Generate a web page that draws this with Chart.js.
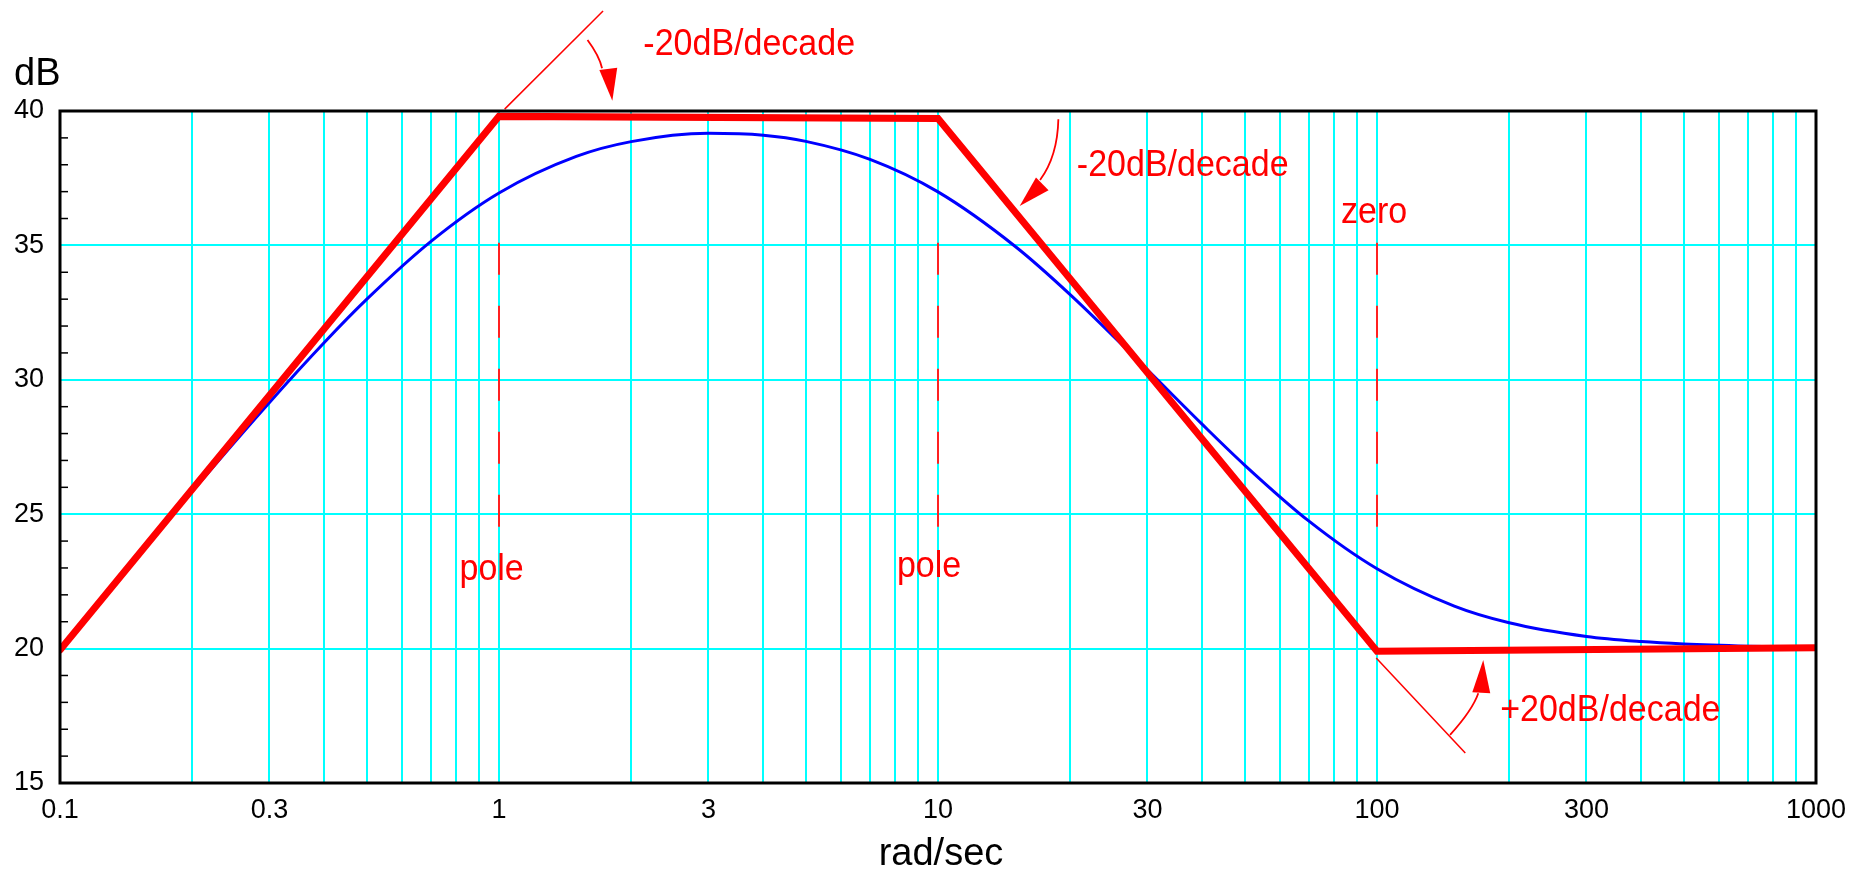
<!DOCTYPE html>
<html>
<head>
<meta charset="utf-8">
<script src="https://cdn.jsdelivr.net/npm/chart.js@4.4.0/dist/chart.umd.min.js"></script>
<style>
  html, body { margin: 0; padding: 0; background: #fff; }
</style>
</head>
<body>
<canvas id="bode" width="1871" height="872"></canvas>
<script>
// axis ticks (rad/sec and dB)
const x_ticks = [0.1, 0.2, 0.3, 0.4, 0.5, 0.6, 0.7, 0.8, 0.9,
                 1, 2, 3, 4, 5, 6, 7, 8, 9,
                 10, 20, 30, 40, 50, 60, 70, 80, 90,
                 100, 200, 300, 400, 500, 600, 700, 800, 900, 1000];
const x_labels = [0.1, 0.3, 1, 3, 10, 30, 100, 300, 1000];
const y_labels = [15, 20, 25, 30, 35, 40];

const freq      = [0.1, 0.15, 0.2, 0.3, 0.4, 0.5, 0.7, 1, 1.5, 2, 3, 4, 5, 7, 10, 15, 20, 30, 40, 50, 70, 100, 150, 200, 300, 400, 500, 700, 1000];
const magnitude = [19.96, 23.42, 25.85, 29.16, 31.39, 33.0, 35.15, 36.95, 38.31, 38.86, 39.17, 39.1, 38.87, 38.2, 36.99, 34.96, 33.17, 30.37, 28.34, 26.82, 24.74, 22.97, 21.58, 20.96, 20.45, 20.26, 20.17, 20.09, 20.04];

// red straight line approximation
const asym_freq = [0.1, 1, 10, 100, 1000];
const asym_db   = [19.95, 39.8, 39.72, 19.9, 20.03];

// dashed pole / zero markers
const break_freq = [1, 10, 100];
const break_top = 35.1;
const break_bottom = 24.5;

// thin slope guide lines
const guide_a = [[1.03, 40.07], [1.726, 43.72]];
const guide_b = [[99.6, 19.65], [158.9, 16.12]];

// text notes (data coords, baseline centre)
const notes = [
  { text: '-20dB/decade', x: 3.715, y: 42.08 },
  { text: '-20dB/decade', x: 36.09, y: 37.58 },
  { text: 'zero',         x: 98.5,  y: 35.82 },
  { text: 'pole',         x: 0.962, y: 22.55 },
  { text: 'pole',         x: 9.54,  y: 22.68 },
  { text: '+20dB/decade', x: 340,   y: 17.31 }
];
// curved arrows: arc start, arc control, arc end, head base, head tip
const arrows = [
  { from: [1.591, 42.64], ctrl: [1.692, 42.05], to: [1.717, 41.59], base: [1.774, 41.57], tip: [1.812, 40.38] },
  { from: [18.80, 39.69], ctrl: [18.72, 38.31], to: [17.08, 37.43], base: [17.28, 37.29], tip: [15.35, 36.47] },
  { from: [146.7, 16.79], ctrl: [165.1, 17.72], to: [170.1, 18.34], base: [172.8, 18.36], tip: [174.6, 19.58] }
];

const FONT = "'Liberation Sans', Arial, Helvetica, sans-serif";
const RED = '#ff0000';
const CYAN = '#00ffff';

function pts(xs, ys) {
  return xs.map((x, i) => ({ x: x, y: ys[i] }));
}

let datasets = [];
datasets.push({
  label: 'asymptote',
  data: pts(asym_freq, asym_db),
  borderColor: RED,
  borderWidth: 7,
  borderCapStyle: 'round',
  borderJoinStyle: 'miter',
  pointRadius: 0,
  tension: 0
});
datasets.push({
  label: 'magnitude',
  data: pts(freq, magnitude),
  borderColor: '#0000ff',
  borderWidth: 3,
  pointRadius: 0,
  cubicInterpolationMode: 'monotone'
});
break_freq.forEach(f => {
  datasets.push({
    label: 'break ' + f,
    data: [{ x: f, y: break_top }, { x: f, y: break_bottom }],
    borderColor: '#ff2020',
    borderWidth: 2,
    borderDash: [32, 31],
    pointRadius: 0
  });
});
[guide_a, guide_b].forEach((g, i) => {
  datasets.push({
    label: 'guide ' + i,
    data: g.map(p => ({ x: p[0], y: p[1] })),
    borderColor: RED,
    borderWidth: 1.5,
    pointRadius: 0,
    clip: false
  });
});

function drawArrow(ctx, p0, pc, p1, base, tip, headW) {
  ctx.beginPath();
  ctx.moveTo(p0.x, p0.y);
  ctx.quadraticCurveTo(pc.x, pc.y, p1.x, p1.y);
  ctx.stroke();
  const dx = tip.x - base.x, dy = tip.y - base.y;
  const d = Math.hypot(dx, dy);
  const ux = dx / d, uy = dy / d;
  ctx.beginPath();
  ctx.moveTo(tip.x, tip.y);
  ctx.lineTo(base.x - uy * headW / 2, base.y + ux * headW / 2);
  ctx.lineTo(base.x + uy * headW / 2, base.y - ux * headW / 2);
  ctx.closePath();
  ctx.fill();
}

const extras = {
  id: 'bodeExtras',
  afterDatasetsDraw(chart) {
    const ctx = chart.ctx;
    const xs = chart.scales.x, ys = chart.scales.y;
    const a = chart.chartArea;
    const P = (v) => ({ x: xs.getPixelForValue(v[0]), y: ys.getPixelForValue(v[1]) });
    ctx.save();

    // frame
    ctx.strokeStyle = '#000';
    ctx.lineWidth = 3;
    ctx.strokeRect(a.left, a.top, a.right - a.left, a.bottom - a.top);

    // minor dB ticks inside the left edge
    ctx.lineWidth = 1.5;
    for (let v = ys.min + 1; v < ys.max; v++) {
      if (v % 5 === 0) continue;
      const y = ys.getPixelForValue(v);
      ctx.beginPath();
      ctx.moveTo(a.left, y);
      ctx.lineTo(a.left + 8, y);
      ctx.stroke();
    }

    // notes (the original lettering is a little taller than Liberation Sans)
    ctx.fillStyle = RED;
    ctx.strokeStyle = RED;
    ctx.font = '34px ' + FONT;
    ctx.textAlign = 'center';
    ctx.textBaseline = 'alphabetic';
    notes.forEach(n => {
      const p = P([n.x, n.y]);
      ctx.save();
      ctx.translate(p.x, p.y);
      ctx.scale(1, 1.1);
      ctx.fillText(n.text, 0, 0);
      ctx.restore();
    });

    // arrows
    ctx.lineWidth = 1.8;
    arrows.forEach(ar => {
      drawArrow(ctx, P(ar.from), P(ar.ctrl), P(ar.to), P(ar.base), P(ar.tip), 18);
    });

    // axis titles
    ctx.fillStyle = '#000';
    ctx.font = '38px ' + FONT;
    ctx.textAlign = 'left';
    ctx.fillText('dB', a.left - 46, a.top - 26);
    ctx.textAlign = 'center';
    ctx.fillText('rad/sec', (a.left + a.right) / 2 + 3, a.bottom + 82);

    ctx.restore();
  }
};

const config = {
  type: 'line',
  data: { datasets: datasets },
  options: {
    responsive: false,
    animation: false,
    devicePixelRatio: 1,
    layout: { padding: { left: 0, right: 55, top: 111, bottom: 0 } },
    plugins: { legend: { display: false }, tooltip: { enabled: false } },
    scales: {
      x: {
        type: 'logarithmic',
        position: 'bottom',
        min: 0.1,
        max: 1000,
        afterBuildTicks: s => { s.ticks = x_ticks.map(v => ({ value: v })); },
        afterFit: s => { s.height = 89; },
        border: { display: false },
        grid: {
          drawTicks: false,
          lineWidth: 2,
          color: c => (c.tick && (c.tick.value === 0.1 || c.tick.value === 1000)) ? 'rgba(0,0,0,0)' : CYAN
        },
        ticks: {
          autoSkip: false,
          maxRotation: 0,
          padding: 11,
          color: '#000',
          font: { family: FONT, size: 27 },
          callback: v => x_labels.includes(v) ? String(v) : ''
        }
      },
      y: {
        type: 'linear',
        position: 'left',
        min: 15,
        max: 40,
        afterFit: s => { s.width = 60; },
        border: { display: false },
        grid: {
          drawTicks: false,
          lineWidth: 2,
          color: c => (c.tick && c.tick.value % 5 === 0 && c.tick.value > 15 && c.tick.value < 40) ? CYAN : 'rgba(0,0,0,0)'
        },
        ticks: {
          stepSize: 1,
          autoSkip: false,
          padding: 16,
          color: '#000',
          font: { family: FONT, size: 27 },
          callback: v => y_labels.includes(v) ? String(v) : ''
        }
      }
    }
  },
  plugins: [extras]
};

new Chart(document.getElementById('bode'), config);
</script>
</body>
</html>
